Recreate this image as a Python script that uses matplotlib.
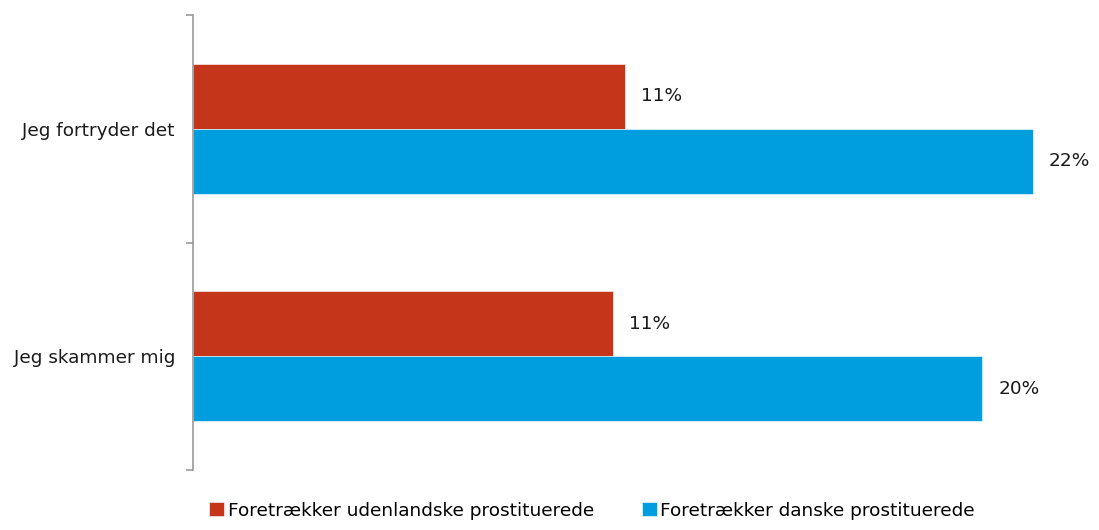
import matplotlib
matplotlib.use("Agg")
import matplotlib.pyplot as plt
import numpy as np

plt.rcParams["font.family"] = ["DejaVu Sans"]

categories = ["Jeg fortryder det", "Jeg skammer mig"]
series_names = ["Foretrækker udenlandske prostituerede", "Foretrækker danske prostituerede"]
udenlandske = [11.1, 10.8]
danske = [21.6, 20.3]

RED = "#C4351A"
BLUE = "#009EDF"
AXIS_GREY = "#9A9A9A"
FS = 13.3

fig = plt.figure(figsize=(10.99, 5.30), dpi=100)
ax = fig.add_axes([193 / 1099, 1 - 470 / 530, 867 / 1099, 455 / 530])

y = np.arange(len(categories))
h = 0.286
b1 = ax.barh(y - h / 2, udenlandske, height=h, color=RED,
             edgecolor="white", linewidth=0.4, label=series_names[0])
b2 = ax.barh(y + h / 2, danske, height=h, color=BLUE,
             edgecolor="white", linewidth=0.4, label=series_names[1])

# value labels to the right of each bar
for bars, vals in ((b1, udenlandske), (b2, danske)):
    for bar, v in zip(bars, vals):
        ax.annotate(f"{v:.0f}%", (bar.get_width(), bar.get_y() + bar.get_height() / 2),
                    textcoords="offset points", xytext=(11.5, 0),
                    va="center", ha="left", fontsize=FS, color="#1a1a1a")

ax.set_xlim(0, 22.3)
ax.set_ylim(1.5, -0.5)

for side in ("top", "right", "bottom"):
    ax.spines[side].set_visible(False)
ax.spines["left"].set_color(AXIS_GREY)
ax.spines["left"].set_linewidth(1.2)

ax.set_xticks([])
ax.set_yticks(y)
ax.set_yticklabels(categories, fontsize=FS, color="#1a1a1a")
ax.tick_params(axis="y", which="major", length=0, pad=13)
ax.set_yticks([-0.5, 0.5, 1.5], minor=True)
ax.tick_params(axis="y", which="minor", length=5, width=1.2, color=AXIS_GREY)

fig.legend(handles=[b1, b2], loc="lower left",
           bbox_to_anchor=(200 / 1099, 1 / 530),
           ncol=2, frameon=False, fontsize=FS, borderpad=0,
           handlelength=0.8, handleheight=0.8, handletextpad=0.2,
           columnspacing=2.6)

fig.savefig("out.png", dpi=100)
